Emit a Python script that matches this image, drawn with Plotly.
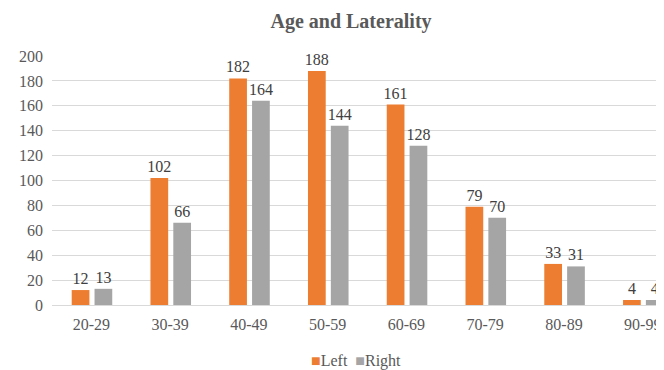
import plotly.graph_objects as go

categories = ["20-29", "30-39", "40-49", "50-59", "60-69", "70-79", "80-89", "90-99"]
left_values = [12, 102, 182, 188, 161, 79, 33, 4]
right_values = [13, 66, 164, 144, 128, 70, 31, 4]
y_ticks = list(range(0, 201, 20))
series_names = ["Left", "Right"]
series_colors = ["#ed7d31", "#a5a5a5"]

FONT = "Liberation Serif, Times New Roman, serif"
SZ = 16
W, H = 656, 362  # page body has an 8px margin

fig = go.Figure()
for name, vals, color, off in zip(series_names, [left_values, right_values], series_colors, [-0.25, 0.04]):
    fig.add_trace(go.Bar(
        x=categories, y=vals, name=name,
        marker=dict(color=color, line=dict(width=8, color="rgba(0,0,0,0)")),
        width=0.225, offset=off,
        text=vals, textposition="outside", constraintext="none",
        textfont=dict(family=FONT, size=SZ, color="#404040"),
        cliponaxis=False, showlegend=False,
    ))

legend_text = "  ".join(
    f"<span style='color:{c}'>■</span>{n}" for n, c in zip(series_names, series_colors)
)
fig.add_annotation(
    text=legend_text, xref="paper", yref="paper", x=(356 - 52) / 612, y=-(361 - 305) / 249,
    xanchor="center", yanchor="middle", showarrow=False,
    font=dict(family=FONT, size=SZ, color="#595959"),
)

fig.update_layout(
    width=W, height=H,
    margin=dict(l=44, r=0, t=48, b=65),
    paper_bgcolor="white", plot_bgcolor="white",
    barmode="overlay",
    font=dict(family=FONT, size=SZ, color="#595959"),
    title=dict(text="<b>Age and Laterality</b>", x=(351 - 8) / W, xanchor="center",
               y=1 - 13 / H, yanchor="middle",
               font=dict(family=FONT, size=20, color="#595959")),
    xaxis=dict(range=[-0.5, 7.27], showgrid=False, showline=True, linecolor="#d9d9d9",
               linewidth=1, ticks="", automargin=False, ticklabelstandoff=5,
               tickfont=dict(family=FONT, size=SZ, color="#595959")),
    yaxis=dict(range=[0, 200], tickvals=y_ticks, showgrid=True, gridcolor="#d9d9d9",
               gridwidth=1, zeroline=False, showline=False, ticks="", automargin=False,
               ticklabelstandoff=8,
               tickfont=dict(family=FONT, size=SZ, color="#595959")),
    showlegend=False,
)

fig.write_html("out.html")
